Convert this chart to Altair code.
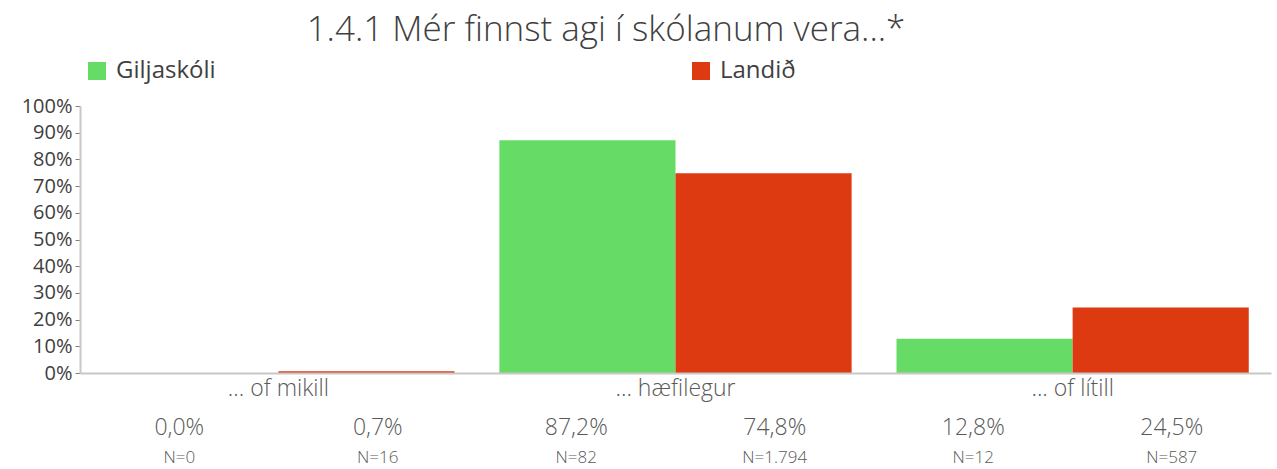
import altair as alt
import pandas as pd

TITLE = "1.4.1 Mér finnst agi í skólanum vera...*"
categories = ["... of mikill", "... hæfilegur", "... of lítill"]
series = ["Giljaskóli", "Landið"]
colors = ["#66DC66", "#DE3A12"]
giljaskoli_pct = [0.0, 87.2, 12.8]
landid_pct = [0.7, 74.8, 24.5]
giljaskoli_n = [0, 82, 12]
landid_n = [16, 1794, 587]

FONT = "Open Sans"
FW = 400

rows = []
for ci, cat in enumerate(categories):
    for si, (s, pcts, ns) in enumerate(zip(series, [giljaskoli_pct, landid_pct], [giljaskoli_n, landid_n])):
        v = pcts[ci]
        n = ns[ci]
        rows.append({
            "cat": cat,
            "series": s,
            "value": v / 100.0,
            "slot": ci * 2 + si + 0.5,
            "pct_label": f"{v:.1f}%".replace(".", ","),
            "n_label": "N=" + f"{n:,}".replace(",", "."),
        })
df = pd.DataFrame(rows)

W, H = 1191, 267

bars = alt.Chart(df).mark_bar().encode(
    x=alt.X("cat:N", sort=categories, title=None,
            scale=alt.Scale(paddingInner=0.113, paddingOuter=0.056),
            axis=alt.Axis(labelAngle=0, labelFont=FONT, labelFontWeight=300, labelFontSize=23,
                          labelColor="#595959", domainColor="#C8C8C8", domainWidth=2, ticks=False,
                          labelPadding=4, labelBaseline="top", zindex=1)),
    xOffset=alt.XOffset("series:N", sort=series),
    y=alt.Y("value:Q", title=None,
            scale=alt.Scale(domain=[0, 1]),
            axis=alt.Axis(format=".0%", values=[i / 10 for i in range(11)], grid=False,
                          labelFont=FONT, labelFontWeight=FW, labelFontSize=20, labelColor="#404040",
                          domainColor="#C8C8C8", domainWidth=2, tickColor="#808080",
                          tickSize=5, labelPadding=3)),
    color=alt.Color("series:N", sort=series,
                    scale=alt.Scale(domain=series, range=colors),
                    legend=alt.Legend(title=None, orient="none", legendX=5, legendY=-47,
                                      direction="horizontal", columns=2, symbolType="square",
                                      symbolSize=324, symbolStrokeWidth=0, labelFont=FONT,
                                      labelFontWeight=FW, labelFontSize=24, labelColor="#404040",
                                      columnPadding=473, labelOffset=7)),
)

xq = alt.X("slot:Q", scale=alt.Scale(domain=[0, 6]), axis=None)

pct_text = alt.Chart(df).mark_text(font=FONT, fontWeight=300, fontSize=23, color="#595959",
                                   baseline="middle").encode(
    x=xq, y=alt.value(H + 55), text="pct_label:N")

n_text = alt.Chart(df).mark_text(font=FONT, fontWeight=300, fontSize=17, color="#595959",
                                 baseline="middle").encode(
    x=xq, y=alt.value(H + 85), text="n_label:N")

title = alt.Chart(pd.DataFrame({"t": [TITLE]})).mark_text(
    font=FONT, fontSize=35, fontWeight=300, color="#404040", baseline="middle", align="center"
).encode(x=alt.value(526), y=alt.value(-76), text="t:N")

chart = alt.layer(bars, pct_text, n_text, title).resolve_scale(x="independent").properties(
    width=W, height=H,
    autosize=alt.AutoSizeParams(type="none"),
    padding={"left": 80, "top": 106, "right": 6, "bottom": 96},
).configure_view(stroke=None)

chart.save("out.html", embed_options={"renderer": "svg", "actions": False})
